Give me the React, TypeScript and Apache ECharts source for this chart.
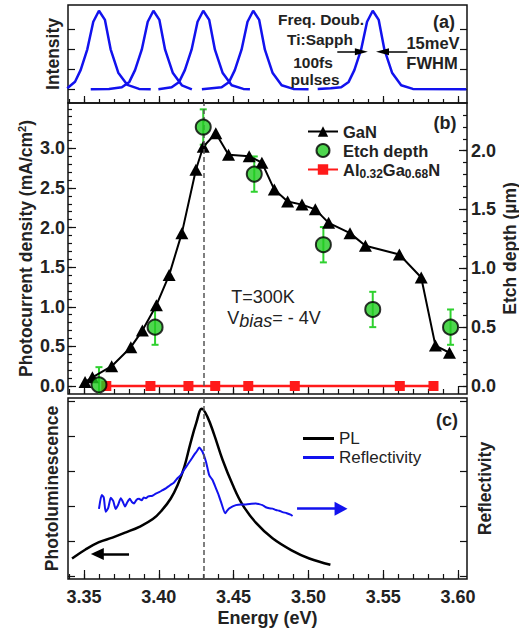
import React, { useEffect, useRef } from "react";
import * as echarts from "echarts";

const FONT = "'Liberation Sans', Arial, Helvetica, sans-serif";

// ---------- ticks ----------
const xMajorTicks = [3.35, 3.4, 3.45, 3.5, 3.55, 3.6];
const xMinorTicks = [3.34, 3.35, 3.36, 3.37, 3.38, 3.39, 3.4, 3.41, 3.42, 3.43, 3.44, 3.45, 3.46, 3.47, 3.48, 3.49, 3.5, 3.51, 3.52, 3.53, 3.54, 3.55, 3.56, 3.57, 3.58, 3.59, 3.6];
const intensityTicks = [0, 1, 2, 3];
const currentLabels = [0, 0.5, 1.0, 1.5, 2.0, 2.5, 3.0];
const currentMinor = [0, 0.1, 0.2, 0.3, 0.4, 0.5, 0.6, 0.7, 0.8, 0.9, 1.0, 1.1, 1.2, 1.3, 1.4, 1.5, 1.6, 1.7, 1.8, 1.9, 2.0, 2.1, 2.2, 2.3, 2.4, 2.5, 2.6, 2.7, 2.8, 2.9, 3.0, 3.1, 3.2, 3.3, 3.4, 3.5];
const etchLabels = [0, 0.5, 1.0, 1.5, 2.0];
const etchMinor = [0, 0.1, 0.2, 0.3, 0.4, 0.5, 0.6, 0.7, 0.8, 0.9, 1.0, 1.1, 1.2, 1.3, 1.4, 1.5, 1.6, 1.7, 1.8, 1.9, 2.0, 2.1, 2.2, 2.3];
const plTicks = [0, 1, 2, 3, 4, 5];

// ---------- panel (a): laser pulses ----------
const pulse1 = [[3.3388, 0.05], [3.344, 0.38], [3.3478, 0.97], [3.3522, 2.0], [3.3562, 3.38], [3.36, 3.93], [3.364, 3.47], [3.3678, 2.0], [3.3729, 0.83], [3.379, 0.22], [3.3868, 0.02], [3.3946, 0]];
const pulse2 = [[3.3545, 0], [3.3667, 0.01], [3.3753, 0.1], [3.3803, 0.37], [3.3841, 0.96], [3.3886, 1.98], [3.3926, 3.38], [3.3964, 3.93], [3.4004, 3.47], [3.4042, 1.98], [3.4093, 0.83], [3.4154, 0.2], [3.4221, 0]];
const pulse3 = [[3.3997, 0], [3.4086, 0.1], [3.4136, 0.37], [3.4174, 0.96], [3.4219, 1.98], [3.4259, 3.38], [3.4297, 3.93], [3.4337, 3.47], [3.4375, 1.98], [3.4426, 0.83], [3.4487, 0.2], [3.4565, 0.02], [3.4609, 0]];
const pulse4 = [[3.4288, 0], [3.442, 0.1], [3.447, 0.37], [3.4508, 0.96], [3.4553, 1.98], [3.4593, 3.38], [3.4631, 3.93], [3.4671, 3.47], [3.4709, 1.98], [3.476, 0.83], [3.4821, 0.2], [3.4899, 0.02], [3.5001, 0]];
const pulse5 = [[3.5062, 0.02], [3.515, 0.05], [3.5219, 0.1], [3.5269, 0.37], [3.5307, 0.96], [3.5352, 1.98], [3.5392, 3.38], [3.543, 3.93], [3.547, 3.47], [3.5508, 1.98], [3.5559, 0.83], [3.562, 0.2], [3.5698, 0.02], [3.6055, 0]];

// ---------- panel (b) ----------
const ganEnergy = [3.3507, 3.3556, 3.3685, 3.3813, 3.389, 3.3984, 3.4069, 3.4154, 3.4248, 3.4297, 3.4381, 3.4466, 3.4604, 3.4689, 3.4772, 3.4861, 3.4957, 3.5046, 3.5135, 3.5278, 3.5381, 3.5608, 3.5754, 3.5849, 3.5943];
const ganCurrent = [0.05, 0.11, 0.25, 0.49, 0.7, 1.02, 1.4, 1.93, 2.73, 3.02, 3.19, 2.92, 2.9, 2.82, 2.48, 2.33, 2.29, 2.23, 2.06, 1.93, 1.77, 1.66, 1.37, 0.51, 0.42];
const etchEnergy = [3.36, 3.3975, 3.4297, 3.4638, 3.51, 3.543, 3.595];
const etchDepth = [0.01, 0.5, 2.2, 1.8, 1.2, 0.65, 0.5];
const etchError = [0.15, 0.15, 0.15, 0.15, 0.15, 0.15, 0.15];
const alganEnergy = [3.3649, 3.3944, 3.4198, 3.4377, 3.4598, 3.4909, 3.5611, 3.5836];
const alganCurrent = [0, 0, 0, 0, 0, 0, 0, 0];
const bandEdge = 3.4335;

// ---------- panel (c) ----------
const plEnergy = [3.342, 3.351, 3.36, 3.369, 3.378, 3.387, 3.396, 3.402, 3.408, 3.4125, 3.417, 3.421, 3.425, 3.4288, 3.4325, 3.437, 3.4426, 3.4493, 3.456, 3.465, 3.476, 3.4894, 3.5006, 3.5147];
const plSignal = [0.5, 0.76, 0.97, 1.1, 1.25, 1.41, 1.63, 1.88, 2.22, 2.6, 3.12, 3.78, 4.38, 4.79, 4.56, 4.05, 3.33, 2.62, 2.04, 1.52, 1.08, 0.72, 0.5, 0.32];
const reflEnergy = [3.36, 3.3618, 3.3632, 3.3645, 3.3662, 3.3679, 3.3695, 3.3712, 3.3729, 3.3746, 3.376, 3.3774, 3.379, 3.3806, 3.382, 3.3835, 3.385, 3.3868, 3.3885, 3.39, 3.3913, 3.393, 3.3957, 3.398, 3.4002, 3.4025, 3.4047, 3.4075, 3.4102, 3.4125, 3.4147, 3.417, 3.4191, 3.4215, 3.4236, 3.4255, 3.427, 3.4292, 3.4315, 3.4337, 3.4359, 3.4382, 3.44, 3.4415, 3.4444, 3.4458, 3.4471, 3.4515, 3.455, 3.4582, 3.462, 3.4649, 3.467, 3.4693, 3.4715, 3.4738, 3.476, 3.4783, 3.4805, 3.4827, 3.4855, 3.4884, 3.4894];
const reflSignal = [1.92, 2.32, 2.25, 1.84, 1.95, 2.24, 2.15, 1.92, 2.05, 2.23, 2.12, 1.99, 2.12, 2.21, 2.12, 2.08, 2.18, 2.21, 2.17, 2.25, 2.23, 2.28, 2.3, 2.36, 2.4, 2.46, 2.51, 2.6, 2.68, 2.8, 2.89, 3.05, 3.18, 3.33, 3.47, 3.58, 3.68, 3.56, 3.28, 2.89, 2.75, 2.51, 2.32, 2.13, 1.8, 1.88, 1.94, 2.03, 2.05, 2.05, 2.07, 2.08, 2.06, 2.03, 1.97, 1.94, 1.93, 1.89, 1.87, 1.83, 1.8, 1.75, 1.72];

const X_MIN = 3.3393;
const X_MAX = 3.606;
const TICK = { color: "#111", width: 1.2 };

function xAxisDef(gridIndex: number, ticks: number[], len: number, labels = false): any {
  return {
    type: "value",
    gridIndex,
    min: X_MIN,
    max: X_MAX,
    position: "bottom",
    axisLine: { show: false, onZero: false },
    splitLine: { show: false },
    axisTick: { show: true, inside: true, length: len, customValues: ticks, lineStyle: TICK },
    axisLabel: labels
      ? { show: true, customValues: xMajorTicks, formatter: (v: number) => v.toFixed(2), margin: 9, fontSize: 18, fontWeight: "bold", color: "#222", fontFamily: FONT }
      : { show: false },
  };
}

function yAxisDef(gridIndex: number, position: string, min: number, max: number, ticks: number[], len: number, labels?: number[]): any {
  return {
    type: "value",
    gridIndex,
    position,
    min,
    max,
    axisLine: { show: false, onZero: false },
    splitLine: { show: false },
    nameMoveOverlap: false,
    axisTick: { show: true, inside: true, length: len, customValues: ticks, lineStyle: TICK },
    axisLabel: labels
      ? { show: true, customValues: labels, formatter: (v: number) => v.toFixed(1), margin: position === "left" ? 3 : 4, fontSize: 18, fontWeight: "bold", color: "#222", fontFamily: FONT }
      : { show: false },
  };
}

const nameStyle = { fontFamily: FONT, fontSize: 17.5, fontWeight: "bold", color: "#222" };

function txt(x: number, y: number, text: string, size: number, bold = true, extra: any = {}): any {
  return {
    type: "text",
    x,
    y,
    silent: true,
    z: 100,
    style: {
      text,
      fontFamily: FONT,
      fontSize: size,
      fontWeight: bold ? "bold" : "normal",
      fill: "#222",
      align: "center",
      verticalAlign: "middle",
      textAlign: "center",
      textVerticalAlign: "middle",
      ...extra,
    },
  };
}

const gridBase = { left: 68, width: 399, show: true, borderColor: "#111", borderWidth: 1.5, backgroundColor: "transparent", containLabel: false, outerBoundsMode: "none" };

export default function App() {
  const ref = useRef<HTMLDivElement>(null);

  useEffect(() => {
    document.body.style.margin = "0";
    const chart = echarts.init(ref.current as HTMLDivElement, null, { renderer: "svg" });

    const pulses = [pulse1, pulse2, pulse3, pulse4, pulse5];
    const arrowStyle = { color: "#000", width: 1.5, type: "solid" };

    const option: any = {
      animation: false,
      textStyle: { fontFamily: FONT },
      grid: [
        { ...gridBase, top: 5, height: 98 },
        { ...gridBase, top: 103, height: 291 },
        { ...gridBase, top: 398, height: 181 },
      ],
      xAxis: [
        xAxisDef(0, xMajorTicks, 7),
        xAxisDef(0, xMinorTicks, 4),
        xAxisDef(1, xMajorTicks, 8),
        xAxisDef(1, xMinorTicks, 5),
        { ...xAxisDef(2, xMajorTicks, 9, true), name: "Energy (eV)", nameLocation: "middle", nameGap: 30, nameTextStyle: { ...nameStyle, fontSize: 18 } },
        xAxisDef(2, xMinorTicks, 5),
      ],
      yAxis: [
        { ...yAxisDef(0, "left", -0.685, 4.215, intensityTicks, 7), name: "Intensity", nameLocation: "middle", nameRotate: 90, nameGap: 6, nameTextStyle: nameStyle },
        yAxisDef(0, "right", -0.685, 4.215, intensityTicks, 7),
        {
          ...yAxisDef(1, "left", -0.101, 3.573, currentLabels, 8, currentLabels),
          name: "Photocurrent density (mA/cm{sup|2})",
          nameLocation: "middle",
          nameRotate: 90,
          nameGap: 33,
          nameTextStyle: { ...nameStyle, rich: { sup: { fontFamily: FONT, fontSize: 11, fontWeight: "bold", color: "#222", verticalAlign: "top", padding: [0, 0, 8, 0] } } },
        },
        yAxisDef(1, "left", -0.101, 3.573, currentMinor, 4),
        { ...yAxisDef(1, "right", -0.068, 2.404, etchLabels, 8, etchLabels), name: "Etch depth (\u00b5m)", nameLocation: "middle", nameRotate: 90, nameGap: 34, nameTextStyle: nameStyle },
        yAxisDef(1, "right", -0.068, 2.404, etchMinor, 4),
        { ...yAxisDef(2, "left", -0.086, 5.1, plTicks, 7), name: "Photoluminescence", nameLocation: "middle", nameRotate: 90, nameGap: 7, nameTextStyle: nameStyle },
        { ...yAxisDef(2, "right", -0.086, 5.1, plTicks, 7), name: "Reflectivity", nameLocation: "middle", nameRotate: 90, nameGap: 9, nameTextStyle: nameStyle },
      ],
      legend: [
        {
          orient: "vertical",
          left: 302,
          top: 118,
          itemWidth: 30,
          itemHeight: 13,
          itemGap: 2,
          selectedMode: false,
          data: ["GaN", "Etch depth", "Al0.32Ga0.68N"],
          formatter: (n: string) => (n === "Al0.32Ga0.68N" ? "Al{sub|0.32}Ga{sub|0.68}N" : n),
          textStyle: {
            fontFamily: FONT,
            fontSize: 16.5,
            fontWeight: "bold",
            color: "#222",
            padding: [0, 0, 0, 0],
            rich: { sub: { fontFamily: FONT, fontSize: 12, fontWeight: "bold", color: "#222", padding: [9, 0, 0, 0] } },
          },
        },
        {
          orient: "vertical",
          left: 298,
          top: 425,
          itemWidth: 31,
          itemHeight: 3,
          itemGap: 2,
          icon: "rect",
          selectedMode: false,
          data: ["PL", "Reflectivity"],
          textStyle: { fontFamily: FONT, fontSize: 17, color: "#222", padding: [0, 0, 0, 0] },
        },
      ],
      series: [
        ...pulses.map((p, i) => ({
          type: "line",
          xAxisIndex: 0,
          yAxisIndex: 0,
          data: p,
          symbol: "none",
          silent: true,
          lineStyle: { color: "#1212ee", width: 2.5 },
          z: 2,
          markLine:
            i === 4
              ? {
                  silent: true,
                  symbol: ["none", "triangle"],
                  symbolSize: [7, 13],
                  label: { show: false },
                  lineStyle: arrowStyle,
                  data: [
                    [{ coord: [3.5193, 1.88] }, { coord: [3.5354, 1.88] }],
                    [{ coord: [3.5662, 1.88] }, { coord: [3.5495, 1.88] }],
                  ],
                }
              : undefined,
        })),
        {
          name: "GaN",
          type: "line",
          xAxisIndex: 2,
          yAxisIndex: 2,
          data: ganEnergy.map((e, i) => [e, ganCurrent[i]]),
          symbol: "triangle",
          symbolSize: [13, 12],
          itemStyle: { color: "#000" },
          lineStyle: { color: "#000", width: 2 },
          z: 4,
          markLine: {
            silent: true,
            symbol: "none",
            label: { show: false },
            lineStyle: { color: "#555", width: 1.5, type: [5, 3] },
            data: [{ xAxis: bandEdge }],
          },
        },
        {
          name: "Al0.32Ga0.68N",
          type: "line",
          xAxisIndex: 2,
          yAxisIndex: 2,
          data: alganEnergy.map((e, i) => [e, alganCurrent[i]]),
          symbol: "rect",
          symbolSize: 10,
          itemStyle: { color: "#ff1a1a" },
          lineStyle: { color: "#ff1a1a", width: 2.5 },
          z: 4,
        },
        {
          name: "etchErr",
          type: "custom",
          xAxisIndex: 2,
          yAxisIndex: 4,
          clip: true,
          z: 3,
          silent: true,
          data: etchEnergy.map((e, i) => [e, etchDepth[i], etchError[i]]),
          renderItem: (params: any, api: any) => {
            const x = api.value(0);
            const y = api.value(1);
            const e = api.value(2);
            const top = api.coord([x, y + e]);
            const bot = api.coord([x, y - e]);
            const hw = 3.5;
            const style = { stroke: "#2fd12f", lineWidth: 2 };
            return {
              type: "group",
              children: [
                { type: "line", shape: { x1: top[0], y1: top[1], x2: bot[0], y2: bot[1] }, style },
                { type: "line", shape: { x1: top[0] - hw, y1: top[1], x2: top[0] + hw, y2: top[1] }, style },
                { type: "line", shape: { x1: bot[0] - hw, y1: bot[1], x2: bot[0] + hw, y2: bot[1] }, style },
              ],
            };
          },
        },
        {
          name: "Etch depth",
          type: "scatter",
          xAxisIndex: 2,
          yAxisIndex: 4,
          data: etchEnergy.map((e, i) => [e, etchDepth[i]]),
          symbol: "circle",
          symbolSize: 15,
          itemStyle: { color: "#22cc22", borderColor: "#000", borderWidth: 2 },
          z: 5,
        },
        {
          name: "PL",
          type: "line",
          xAxisIndex: 4,
          yAxisIndex: 6,
          data: plEnergy.map((e, i) => [e, plSignal[i]]),
          symbol: "none",
          smooth: 0.4,
          itemStyle: { color: "#000" },
          lineStyle: { color: "#000", width: 2.5 },
          z: 4,
          markLine: {
            silent: true,
            symbol: "none",
            label: { show: false },
            lineStyle: { color: "#555", width: 1.5, type: [5, 3] },
            data: [
              { xAxis: bandEdge },
              [
                { coord: [3.3801, 0.63], symbol: "none", lineStyle: { color: "#000", width: 2.5, type: "solid" } },
                { coord: [3.3589, 0.63], symbol: "triangle", symbolSize: [12, 13], lineStyle: { color: "#000", width: 2.5, type: "solid" } },
              ],
            ],
          },
        },
        {
          name: "Reflectivity",
          type: "line",
          xAxisIndex: 4,
          yAxisIndex: 7,
          data: reflEnergy.map((e, i) => [e, reflSignal[i]]),
          symbol: "none",
          smooth: 0.2,
          itemStyle: { color: "#1212ee" },
          lineStyle: { color: "#1212ee", width: 2 },
          z: 4,
          markLine: {
            silent: true,
            symbol: ["none", "triangle"],
            symbolSize: [14, 13],
            label: { show: false },
            lineStyle: { color: "#1212ee", width: 2.5, type: "solid" },
            data: [[{ coord: [3.4924, 1.93] }, { coord: [3.5218, 1.93] }]],
          },
        },
      ],
      graphic: [
        txt(444, 22, "(a)", 18),
        txt(445, 123, "(b)", 18),
        txt(447, 420, "(c)", 18),
        txt(321, 19, "Freq. Doub.", 15.5),
        txt(320, 39, "Ti:Sapph", 15.5),
        txt(313, 62, "100fs", 15.5),
        txt(315, 79, "pulses", 15.5),
        txt(433, 43, "15meV", 16.5),
        txt(432, 63, "FWHM", 16.5),
        txt(263, 297, "T=300K", 18, false),
        txt(274, 318, "V{b|bias}= - 4V", 18, false, {
          rich: { b: { fontFamily: FONT, fontSize: 18, fontStyle: "italic", fill: "#222", padding: [5, 0, 0, 0] } },
        }),
      ],
    };

    chart.setOption(option);
    return () => chart.dispose();
  }, []);

  return <div ref={ref} style={{ position: "absolute", left: 0, top: 0, width: 519, height: 631 }} />;
}
